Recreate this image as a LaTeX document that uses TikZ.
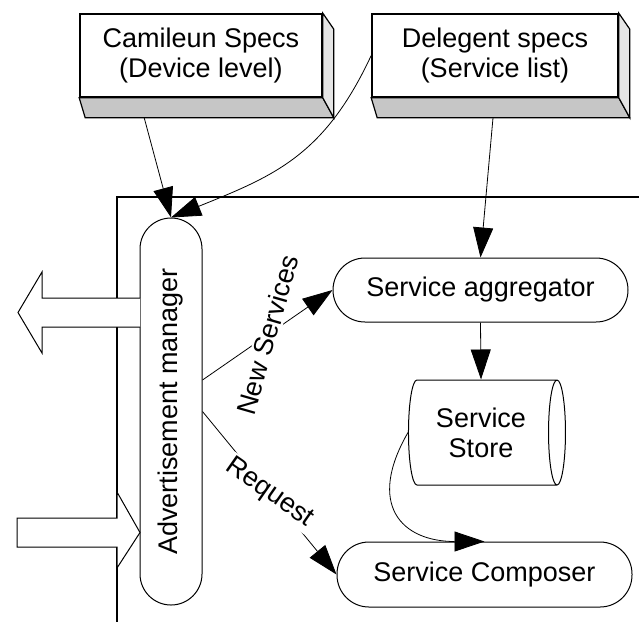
\documentclass[tikz,border=0pt]{standalone}
\usepackage{fontspec}
\setmainfont{Liberation Sans}
\usepackage{graphicx}
\usepackage{tikz}
\usetikzlibrary{arrows.meta,shapes.geometric,calc}
\tikzset{
    spec box/.style={draw, line width=1.6pt, fill=white, minimum width=242pt, minimum height=83pt, align=center},
    process/.style={draw, line width=1pt, rounded corners=#1, align=center},
    process/.default=32pt,
    flow/.style={-{Triangle[length=30pt,width=20pt]}, line width=0.8pt},
    hollow arrow/.style={draw, line width=1pt, fill=white},
}
\begin{document}
\begin{tikzpicture}[x=1pt, y=-1pt, font=\fontsize{27}{30}\selectfont]
    \useasboundingbox (0,0) rectangle (639,622);
    \draw[line width=1.8pt] (639,197) -- (117,197) -- (117,622);
    \node[spec box] (cam) at (201,55.5) {Camileun Specs\\(Device level)};
    \node[spec box, minimum width=246pt] (del) at (495,55.5) {Delegent specs\\(Service list)};
    \foreach \b in {cam,del}{
        \filldraw[fill=gray!45, line width=1.2pt] (\b.south west) -- (\b.south east) -- ++(11,20) -- ($(\b.south west)+(6,20)$) -- cycle;
        \filldraw[fill=gray!20, line width=1.2pt] (\b.north east) -- ++(11,16) -- ($(\b.south east)+(11,20)$) -- (\b.south east) -- cycle;
    }
    \coordinate (cam foot) at ($(cam.south west)+(65,20)$);
    \coordinate (del foot) at ($(del.south)+(-2,20)$);
    \node[process=31pt, minimum width=62pt, minimum height=387pt] (am) at (171,411.5) {\rotatebox{90}{Advertisement manager}};
    \node[process, minimum width=295pt, minimum height=64pt] (agg) at (480.5,290) {Service aggregator};
    \node[draw, cylinder, aspect=0.3, line width=1pt, minimum height=157pt, minimum width=105pt, align=center] (store) at (481,432.5) {Service\\Store};
    \node[process, minimum width=295pt, minimum height=65pt] (comp) at (484.5,574.5) {Service Composer};
    \draw[hollow arrow] (140,298) -- (42,298) -- (42,272) -- (18,312.5) -- (42,353) -- (42,327) -- (140,327);
    \draw[hollow arrow] (17,518) -- (117,518) -- (117,492) -- (140,532.5) -- (117,568) -- (117,547) -- (17,547) -- cycle;
    \draw[flow] (cam foot) -- (am.north);
    \draw[flow] (del.west) to[out=245, in=22, looseness=1.1] (am.north);
    \draw[flow] (del foot) -- (agg.north);
    \draw[flow] (agg.south) -- (store.north);
    \draw[flow] (store.west) to[out=240, in=180, looseness=1.6] (comp.north);
    \draw[flow] (am.45) -- node[fill=white, rotate=74, inner sep=2pt] {New Services} (agg.west);
    \draw[flow] (am.east) -- node[fill=white, rotate=-35, inner sep=2pt] {Request} (comp.west);
\end{tikzpicture}
\end{document}
